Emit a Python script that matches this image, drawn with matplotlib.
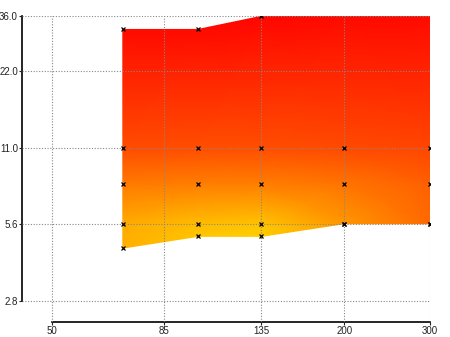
import numpy as np
import matplotlib
matplotlib.use("Agg")
import matplotlib.pyplot as plt
from matplotlib.colors import LinearSegmentedColormap

# columns of the measured grid (x) and the y levels in each column
x_cols = [70, 100, 135, 200, 300]
y_bottom = [4.5, 5.0, 5.0, 5.6, 5.6]
y_mid1 = [5.6, 5.6, 5.6, 5.6, 5.6]
y_mid2 = [8.0, 8.0, 8.0, 8.0, 8.0]
y_mid3 = [11.0, 11.0, 11.0, 11.0, 11.0]
y_top = [32.0, 32.0, 36.0, 40.0, 40.0]

# colour value at each point (0 = red, 1 = yellow)
z_bottom = [0.84, 0.95, 1.0, 0.72, 0.50]
z_mid1 = [0.82, 0.90, 0.93, 0.72, 0.50]
z_mid2 = [0.58, 0.60, 0.60, 0.55, 0.45]
z_mid3 = [0.36, 0.37, 0.37, 0.35, 0.33]
z_top = [0.05, 0.05, 0.03, 0.02, 0.02]

xticks = [50, 85, 135, 200, 300]
xlabels = ["50", "85", "135", "200", "300"]
yticks = [2.8, 5.6, 11.0, 22.0, 36.0]
ylabels = ["2.8", "5.6", "11.0", "22.0", "36.0"]

plt.rcParams['font.family'] = ['Liberation Sans', 'DejaVu Sans']

cmap = LinearSegmentedColormap.from_list("ry", ["#ff0000", "#ff6a00", "#ffd000"])

X = np.tile(np.array(x_cols, dtype=float), (5, 1))
Y = np.array([y_bottom, y_mid1, y_mid2, y_mid3, y_top])
Z = np.array([z_bottom, z_mid1, z_mid2, z_mid3, z_top])

fig = plt.figure(figsize=(4.5, 3.37), dpi=100)
ax = fig.add_axes([22 / 450, 1 - 322 / 337, 408 / 450, 306 / 337])
ax.set_xscale("log")
ax.set_yscale("log")

ax.pcolormesh(X, Y, Z, shading="gouraud", cmap=cmap, vmin=0, vmax=1, zorder=1)

# measurement points (tops at 200/300 are outside the view)
for i, xc in enumerate(x_cols):
    ys = [y_bottom[i], y_mid1[i], y_mid2[i], y_mid3[i], y_top[i]]
    ax.plot([xc] * len(ys), ys, linestyle="none", marker="x", color="black",
            markersize=2.2, markeredgewidth=0.9, zorder=4, clip_on=True)

ax.set_xlim(43.4, 300.5)
ax.set_ylim(2.32, 36.1)

ax.set_xticks(xticks)
ax.set_xticklabels(xlabels)
ax.set_yticks(yticks)
ax.set_yticklabels(ylabels)
ax.minorticks_off()
ax.tick_params(axis="both", labelsize=7, colors="#222222", length=2, width=0.8, pad=1)

ax.grid(True, color="#888888", linestyle=(0, (1, 1.5)), linewidth=0.8, zorder=3)
ax.set_axisbelow(False)

for s in ["top", "right"]:
    ax.spines[s].set_visible(False)
ax.spines["left"].set_linewidth(1.2)
ax.spines["bottom"].set_linewidth(1.2)
ax.spines["left"].set_bounds(2.8, 36.0)
ax.spines["bottom"].set_bounds(50, 300)

fig.savefig("out.png", dpi=100)
